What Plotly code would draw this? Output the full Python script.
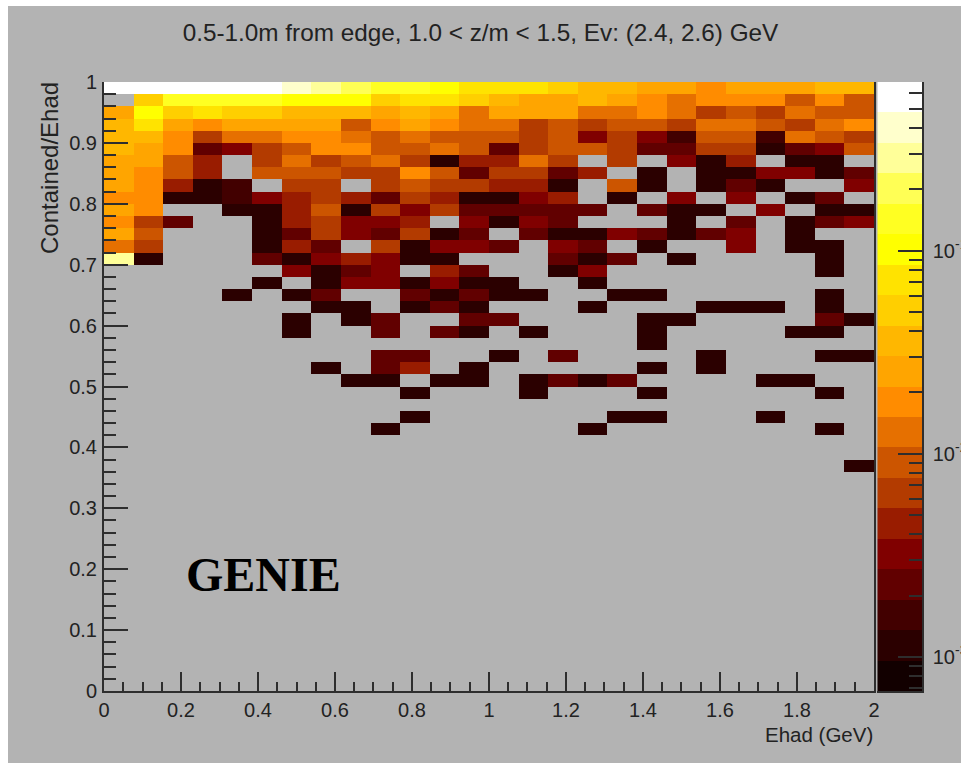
import numpy as np
import plotly.graph_objects as go

# Binning of the histogram
x_edges = np.linspace(0, 2, 27)
y_edges = np.linspace(0, 1, 51)

# Colour band index of each cell (0..9, a..j = 0..19; "." = empty bin)
# First string is the top row (0.98-1.00), going down.
cell_levels = [
    "jjjjjjihgffedddcbbaa9aaabb",
    ".cffffeeecddcbaaba98999797",
    "aecdccbbbaba8aaa8898676877",
    "bda9aaaa79a988676776887689",
    "bb968899878777674642772876",
    "ba934679977873677633661347",
    "aa75.68678615586.6.415.11.",
    "a975.777669736635.1.114413",
    "a9512.66.6766551.71.131..4",
    "9911245653651145.1.4.4.13.",
    "a9..1157164633333.311.4.11",
    "963..156445.4143...1.3.134",
    "a7...13643613.31143134.1..",
    "86...153.61443.43.1..4.11.",
    "h1...3145411...313.1....1.",
    "......4134.53..14.......1.",
    ".....1.1441411..1.........",
    "....1.13..31311..11.....1.",
    ".......11.131...1...111.1.",
    "......1.13..33....11....31",
    "......1..3.31.1...1....11.",
    "..................1.......",
    ".........33..1.3....1...11",
    ".......1.35.1.....1.1.....",
    "........11.11.1313....11..",
    "..........1...1...1.....1.",
    "..........................",
    "..........1......11...1...",
    ".........1......1.......1.",
    "..........................",
    "..........................",
    ".........................1",
]

band_colors = [
    "#120000", "#2b0000", "#420000", "#610000", "#800000",
    "#991c00", "#b33b00", "#cc5500", "#e67000", "#ff8c00",
    "#ffa500", "#ffb700", "#ffcf00", "#ffe300", "#ffff00",
    "#ffff22", "#ffff55", "#ffff99", "#ffffcc", "#ffffff",
]

log_z_min = -3.169
log_z_max = -0.17
band_codes = "0123456789abcdefghij"

decades = [-1, -2, -3]
decade_labels = ["10<sup>-1</sup>", "10<sup>-2</sup>", "10<sup>-3</sup>"]
minor_multipliers = [2, 3, 4, 5, 6, 7, 8, 9]

title_text = "0.5-1.0m from edge, 1.0 < z/m < 1.5, Ev: (2.4, 2.6) GeV"
x_label = "Ehad (GeV)"
y_label = "Contained/Ehad"
stamp = "GENIE"

# ---------------------------------------------------------------------------
assert all(len(r) == len(x_edges) - 1 for r in cell_levels)

n_bands = len(band_colors)
band_step = (log_z_max - log_z_min) / n_bands
band_centres = log_z_min + (np.arange(n_bands) + 0.5) * band_step
band_edges = log_z_min + np.arange(n_bands + 1) * band_step

rows = []
for text in reversed(cell_levels):
    rows.append([None if ch == "." else band_centres[band_codes.index(ch)] for ch in text])
n_missing = len(y_edges) - 1 - len(rows)
z = [[None] * (len(x_edges) - 1) for _ in range(n_missing)] + rows

colorscale = []
for i, c in enumerate(band_colors):
    colorscale.append([i / n_bands, c])
    colorscale.append([(i + 1) / n_bands, c])

minor_vals = []
for d in [-4, -3, -2, -1]:
    for m in minor_multipliers:
        v = d + np.log10(m)
        if log_z_min < v < log_z_max:
            minor_vals.append(float(v))

# page geometry (window pixels)
PAGE_L, PAGE_T = 8, 6
FIG_W, FIG_H = 961 - PAGE_L, 763 - PAGE_T
PLOT_L, PLOT_R, PLOT_T, PLOT_B = 104.3, 922.0, 81.7, 691.3
MAIN_R, BAR_L = 874.0, 877.3


def px(v):
    return (v - PLOT_L) / (PLOT_R - PLOT_L)


def py(v):
    return (PLOT_B - v) / (PLOT_B - PLOT_T)


INK = "#222222"
LINE = "#2e2e2e"
FONT = "Liberation Sans"

fig = go.Figure()
fig.add_trace(go.Heatmap(
    x=x_edges, y=y_edges, z=z, xaxis="x", yaxis="y",
    colorscale=colorscale, zmin=log_z_min, zmax=log_z_max,
    showscale=False, hoverongaps=False,
))
fig.add_trace(go.Heatmap(
    x=[0, 1], y=band_edges, z=[[v] for v in band_centres], xaxis="x2", yaxis="y2",
    colorscale=colorscale, zmin=log_z_min, zmax=log_z_max,
    showscale=False, hoverinfo="skip",
))

fig.update_layout(
    width=FIG_W, height=FIG_H,
    margin=dict(l=PLOT_L - PAGE_L, r=PAGE_L + FIG_W - PLOT_R,
                t=PLOT_T - PAGE_T, b=PAGE_T + FIG_H - PLOT_B, pad=0, autoexpand=False),
    paper_bgcolor="#b3b3b3", plot_bgcolor="#b3b3b3",
    showlegend=False,
    font=dict(family=FONT, color=INK),
    title=dict(text=title_text, font=dict(size=24.3, family=FONT, color=INK),
               x=(480.5 - PAGE_L) / FIG_W, xanchor="center",
               y=1 - (32 - PAGE_T) / FIG_H, yanchor="middle"),
    xaxis=dict(domain=[0, px(MAIN_R)], range=[0, 2], anchor="y",
               tickmode="array", tickvals=[0, 0.2, 0.4, 0.6, 0.8, 1, 1.2, 1.4, 1.6, 1.8, 2],
               ticktext=["0", "0.2", "0.4", "0.6", "0.8", "1", "1.2", "1.4", "1.6", "1.8", "2"],
               ticks="inside", ticklen=19, tickwidth=1.5, tickcolor=LINE,
               tickfont=dict(size=20, family=FONT, color=INK), ticklabelstandoff=0,
               minor=dict(dtick=0.05, ticks="inside", ticklen=9, tickwidth=1.5, tickcolor=LINE, showgrid=False),
               showgrid=False, zeroline=False, showline=True, linecolor=LINE, linewidth=2),
    yaxis=dict(domain=[0, 1], range=[0, 1], anchor="x",
               tickmode="array", tickvals=[0, 0.1, 0.2, 0.3, 0.4, 0.5, 0.6, 0.7, 0.8, 0.9, 1],
               ticktext=["0", "0.1", "0.2", "0.3", "0.4", "0.5", "0.6", "0.7", "0.8", "0.9", "1"],
               ticks="inside", ticklen=24, tickwidth=1.5, tickcolor=LINE,
               tickfont=dict(size=20, family=FONT, color=INK), ticklabelstandoff=1,
               minor=dict(dtick=0.02, ticks="inside", ticklen=12, tickwidth=1.5, tickcolor=LINE, showgrid=False),
               showgrid=False, zeroline=False, showline=True, mirror=True, linecolor=LINE, linewidth=2),
    xaxis2=dict(domain=[px(BAR_L), 1], range=[0, 1], anchor="y2", showticklabels=False, ticks="",
                showgrid=False, zeroline=False, showline=True, linecolor=LINE, linewidth=1.5),
    yaxis2=dict(domain=[0, 1], range=[log_z_min, log_z_max], anchor="x2", side="right",
                tickmode="array", tickvals=decades, ticktext=decade_labels,
                ticks="inside", ticklen=24, tickwidth=1.5, tickcolor=LINE,
                tickfont=dict(size=20, family=FONT, color=INK), ticklabelstandoff=5,
                ticklabeloverflow="allow",
                minor=dict(tickmode="array", tickvals=minor_vals, ticks="inside", ticklen=13,
                           tickwidth=1.5, tickcolor=LINE, showgrid=False),
                showgrid=False, zeroline=False, showline=True, linecolor=LINE, linewidth=1.5),
    annotations=[
        dict(text=y_label, xref="paper", yref="paper", x=px(50.5), y=py(79.5),
             xanchor="center", yanchor="top", textangle=-90, showarrow=False,
             font=dict(size=24, family=FONT, color=INK)),
        dict(text=x_label, xref="paper", yref="paper", x=px(875), y=py(735),
             xanchor="right", yanchor="middle", showarrow=False,
             font=dict(size=20.5, family=FONT, color=INK)),
        dict(text=stamp, xref="paper", yref="paper", x=px(184.5), y=py(575),
             xanchor="left", yanchor="middle", showarrow=False,
             font=dict(size=48, family="Liberation Serif", color="#000000", weight="bold")),
    ],
)

fig.write_html(
    "out.html",
    post_script=f"document.body.style.margin='{PAGE_T}px 0 0 {PAGE_L}px';document.body.style.overflow='hidden';document.body.style.background='#ffffff';",
)
